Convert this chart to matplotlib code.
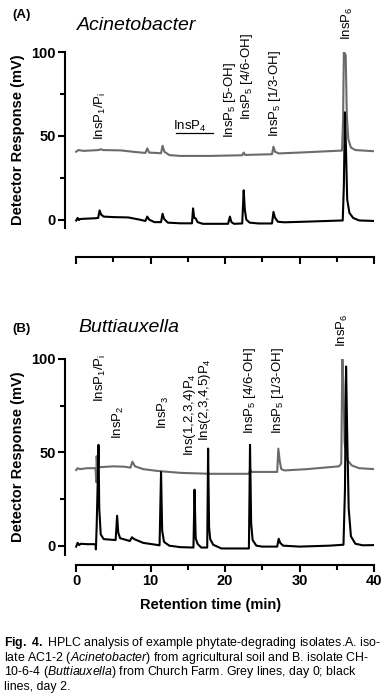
import matplotlib
matplotlib.use("Agg")
import matplotlib.pyplot as plt
from matplotlib.ticker import MultipleLocator

plt.rcParams['font.family'] = ['Liberation Sans', 'DejaVu Sans']
plt.rcParams['mathtext.fontset'] = 'custom'
plt.rcParams['mathtext.rm'] = 'Liberation Sans'
plt.rcParams['mathtext.it'] = 'Liberation Sans:italic'
plt.rcParams['mathtext.bf'] = 'Liberation Sans:bold'
plt.rcParams['mathtext.default'] = 'regular'

# ---------------- data ----------------
# Panel A (Acinetobacter)
a_black_t = [0.0, 0.2, 0.35, 0.5, 1.0, 2.5, 2.95, 3.15, 3.35, 3.7, 5.0, 7.0, 8.5, 9.3, 9.55, 9.8,
             10.5, 11.4, 11.6, 11.8, 12.3, 14.0, 15.55, 15.7, 15.85, 16.05, 16.3, 17.0, 20.4, 20.65,
             20.85, 21.2, 22.3, 22.5, 22.65, 22.85, 23.3, 24.5, 26.3, 26.5, 26.7, 27.1, 28.0, 31.0,
             35.8, 35.95, 36.1, 36.25, 36.4, 36.7, 37.2, 38.0, 40.0]
a_black_y = [-0.5, 1.0, -0.3, 0.3, 0.5, 0.8, 1.0, 5.5, 3.0, 1.8, 1.5, 1.3, 0.0, -0.8, 1.8, 0.0,
             -1.5, -1.5, 3.5, 0.5, -1.8, -2.2, -2.2, 6.7, 1.0, 0.8, -1.5, -2.5, -2.5, 1.8,
             -1.5, -2.5, -2.3, 17.5, 6.0, 0.0, -1.8, -2.3, -2.3, 4.6, 1.2, -1.3, -1.6, -1.2,
             -0.5, 20.0, 64.0, 40.0, 12.0, 4.0, 1.0, -0.5, -0.8]
a_grey_t = [0.0, 0.3, 1.0, 3.0, 3.3, 3.6, 6.0, 8.0, 9.3, 9.55, 9.8, 11.4, 11.6, 11.85, 12.5, 14.0,
            18.0, 22.3, 22.5, 22.7, 26.3, 26.5, 26.7, 27.2, 30.0, 35.7, 35.85, 35.95, 36.1, 36.2,
            36.35, 36.55, 36.9, 37.5, 40.0]
a_grey_y = [40.5, 41.5, 41.0, 41.5, 42.0, 41.5, 41.3, 40.3, 39.8, 42.5, 40.0, 39.6, 44.0, 40.5, 38.5, 38.0,
            38.0, 38.4, 40.0, 38.6, 39.0, 43.5, 40.5, 39.5, 40.0, 41.2, 60.0, 100.0, 99.0, 98.0,
            62.0, 48.0, 43.0, 41.5, 40.8]

# Panel B (Buttiauxella)
b_black_t = [0.0, 0.2, 0.4, 0.6, 1.5, 2.6, 2.65, 2.75, 2.9, 3.0, 3.1, 3.3, 3.7, 5.3, 5.5, 5.65,
             5.9, 7.2, 7.5, 7.8, 9.0, 11.2, 11.4, 11.55, 11.8, 12.5, 14.0, 15.75, 15.9, 16.05,
             16.3, 16.8, 17.6, 17.72, 17.85, 18.0, 18.4, 19.5, 23.2, 23.35, 23.5, 23.7, 24.2,
             25.0, 27.0, 27.2, 27.4, 27.8, 30.0, 34.0, 35.9, 36.1, 36.25, 36.4, 36.6, 36.9,
             37.5, 38.5, 40.0]
b_black_y = [-0.5, 1.5, 0.3, 1.0, 0.8, 0.8, -2.0, 10.0, 35.0, 54.0, 20.0, 6.0, 3.5, 3.0, 16.0, 7.0,
             4.0, 2.5, 4.5, 3.5, 1.5, 0.2, 39.5, 8.0, 2.0, 0.0, -0.8, -1.0, 30.0, 4.0,
             1.0, -1.0, -1.0, 52.0, 10.0, 3.5, 0.5, -1.5, -1.5, 54.0, 12.0, 3.0, 0.0,
             -0.5, -0.5, 3.7, 1.5, 0.0, -0.5, 0.0, 0.5, 30.0, 96.0, 60.0, 20.0, 5.0,
             1.0, 0.2, 0.3]
b_grey_t = [0.0, 0.2, 0.5, 1.5, 2.6, 2.7, 2.75, 2.85, 3.0, 5.0, 6.5, 7.3, 7.55, 7.9, 9.0, 11.0,
            14.0, 18.0, 23.2, 23.4, 23.6, 27.0, 27.15, 27.35, 27.55, 28.0, 31.0, 35.3, 35.6,
            35.75, 35.9, 36.05, 36.4, 37.0, 38.0, 40.0]
b_grey_y = [40.5, 41.5, 41.0, 41.5, 41.5, 34.0, 48.0, 41.0, 42.0, 42.5, 42.3, 41.8, 45.0, 42.5, 41.0, 40.0,
            39.0, 38.5, 38.5, 40.5, 39.5, 39.5, 52.0, 45.0, 41.0, 40.3, 41.0, 42.5, 44.0,
            100.0, 85.0, 55.0, 46.0, 43.0, 41.5, 41.0]

# peak labels: (text, x, y-bottom)
a_labels = [("InsP$_1$/P$_i$", 3.2, 47.5),
            ("InsP$_5$ [5-OH]", 20.7, 48.8),
            ("InsP$_5$ [4/6-OH]", 22.9, 59.5),
            ("InsP$_5$ [1/3-OH]", 26.7, 49.4),
            ("InsP$_6$", 36.4, 107.0)]
a_insp4 = ("InsP$_4$", 15.3, 55.4)
a_insp4_line = ([13.4, 18.4], [51.8, 51.8])

b_labels = [("InsP$_1$/P$_i$", 3.2, 76.9),
            ("InsP$_2$", 5.65, 57.0),
            ("InsP$_3$", 11.7, 62.4),
            ("Ins(1,2,3,4)P$_4$", 15.3, 47.8),
            ("Ins(2,3,4,5)P$_4$", 17.3, 56.0),
            ("InsP$_5$ [4/6-OH]", 23.4, 59.7),
            ("InsP$_5$ [1/3-OH]", 27.1, 59.7),
            ("InsP$_6$", 35.8, 106.5)]

y_ticks = [0, 50, 100]
x_ticks = [0, 10, 20, 30, 40]

caption = [r"$\mathbf{Fig.\ 4.}$ HPLC analysis of example phytate-degrading isolates.A. iso-",
           r"late AC1-2 ($\mathit{Acinetobacter}$) from agricultural soil and B. isolate CH-",
           r"10-6-4 ($\mathit{Buttiauxella}$) from Church Farm. Grey lines, day 0; black",
           r"lines, day 2."]

# ---------------- figure ----------------
W, H = 388, 696
fig = plt.figure(figsize=(W / 100, H / 100), dpi=100)

def fx(px):
    return px / W

def fy(py):
    return 1 - py / H

GREY = '#6b6b6b'

def make_axes(top, bottom, xoff_px, show_xlabels):
    ax = fig.add_axes([fx(65), fy(bottom), fx(374) - fx(65), (bottom - top) / H])
    ax.set_xlim(-1.5, 40)
    ax.set_ylim(-5, 100)
    for s in ['top', 'right']:
        ax.spines[s].set_visible(False)
    for s in ['left', 'bottom']:
        ax.spines[s].set_linewidth(1.5)
    ax.spines['bottom'].set_bounds(0, 40)
    ax.spines['bottom'].set_position(('outward', xoff_px * 0.72))
    ax.set_yticks(y_ticks)
    ax.yaxis.set_minor_locator(MultipleLocator(25))
    ax.set_xticks(x_ticks)
    ax.xaxis.set_minor_locator(MultipleLocator(5))
    ax.tick_params(which='major', length=5, width=1.5, labelsize=10.5, pad=1.5)
    ax.tick_params(which='minor', length=3.5, width=1.5)
    for lab in ax.get_yticklabels():
        lab.set_fontweight('bold')
    if show_xlabels:
        for lab in ax.get_xticklabels():
            lab.set_fontweight('bold')
    else:
        ax.set_xticklabels([])
    ax.set_ylabel("Detector Response (mV)", fontsize=10.5, fontweight='bold')
    ax.yaxis.set_label_coords(-0.128, 0.5)
    return ax

axA = make_axes(52, 228, 29, False)
axA.plot(a_grey_t, a_grey_y, color=GREY, lw=1.5, zorder=2)
axA.plot(a_black_t, a_black_y, color='black', lw=1.5, zorder=3)
for txt, x, y in a_labels:
    axA.text(x, y, txt, rotation=90, ha='center', va='bottom', fontsize=9.5, clip_on=False)
axA.text(a_insp4[1], a_insp4[2], a_insp4[0], ha='center', va='center', fontsize=9.5)
axA.plot(a_insp4_line[0], a_insp4_line[1], color='black', lw=0.9)

axB = make_axes(359, 555, 10, True)
axB.plot(b_grey_t, b_grey_y, color=GREY, lw=1.5, zorder=2)
axB.plot(b_black_t, b_black_y, color='black', lw=1.5, zorder=3)
for txt, x, y in b_labels:
    axB.text(x, y, txt, rotation=90, ha='center', va='bottom', fontsize=9.5, clip_on=False)

fig.text(fx(211), fy(605), "Retention time (min)", ha='center', va='center',
         fontsize=10.5, fontweight='bold')

fig.text(fx(12), fy(15), "(A)", ha='left', va='center', fontsize=9.5, fontweight='bold')
fig.text(fx(77), fy(26), "Acinetobacter", ha='left', va='center', fontsize=14, style='italic')
fig.text(fx(12), fy(329), "(B)", ha='left', va='center', fontsize=9.5, fontweight='bold')
fig.text(fx(78), fy(328), "Buttiauxella", ha='left', va='center', fontsize=14, style='italic')

for i, line in enumerate(caption):
    fig.text(fx(4), fy(643 + 14.7 * i), line, ha='left', va='center', fontsize=8.9)

fig.savefig("out.png", dpi=100)
